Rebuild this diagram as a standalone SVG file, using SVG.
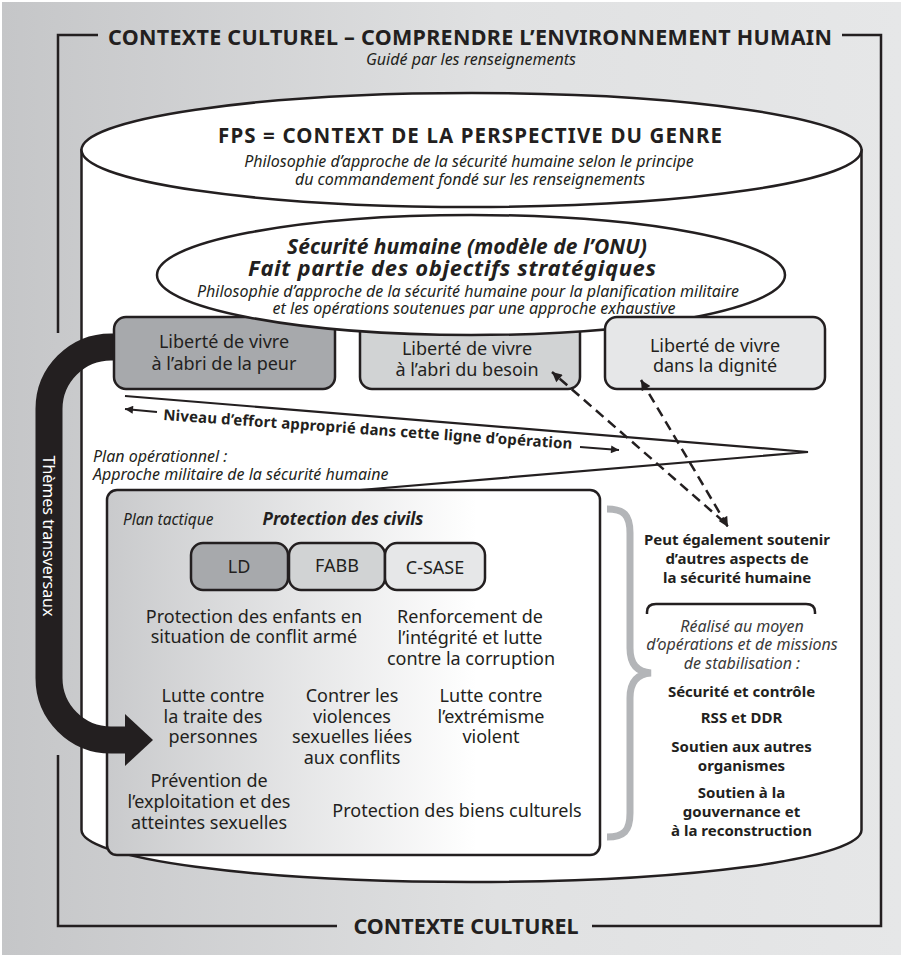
<svg xmlns="http://www.w3.org/2000/svg" width="903" height="957" viewBox="0 0 903 957">
<defs>
<linearGradient id="bg" x1="0" y1="0" x2="1" y2="0">
<stop offset="0" stop-color="#c5c6c8"/>
<stop offset="0.55" stop-color="#e0e1e2"/>
<stop offset="1" stop-color="#e6e7e8"/>
</linearGradient>
<linearGradient id="tac" x1="0" y1="0" x2="1" y2="0">
<stop offset="0" stop-color="#c9cacc"/>
<stop offset="0.75" stop-color="#ffffff"/>
<stop offset="1" stop-color="#ffffff"/>
</linearGradient>
<marker id="ah" viewBox="0 0 10 10" refX="10" refY="5" markerWidth="11" markerHeight="10" markerUnits="userSpaceOnUse" orient="auto-start-reverse">
<path d="M0,0 L10,5 L0,10 z" fill="#231f20"/>
</marker>
<marker id="sh" viewBox="0 0 10 10" refX="10" refY="5" markerWidth="9" markerHeight="8" markerUnits="userSpaceOnUse" orient="auto">
<path d="M0,0 L10,5 L0,10 z" fill="#231f20"/>
</marker>
</defs>
<style>
.t{font-family:"Noto Sans","DejaVu Sans",sans-serif;fill:#231f20}
.b{font-weight:700}
.i{font-style:italic}
.m{text-anchor:middle}
.ln{fill:none;stroke:#231f20;stroke-width:2.5}
.box{stroke:#231f20;stroke-width:2.5}
.dk{fill:#a7a9ac}
.md{fill:#d1d3d4}
.lt{fill:#e6e7e8}
.dash{fill:none;stroke:#231f20;stroke-width:2.5;stroke-dasharray:10 6}
</style>
<rect x="0" y="0" width="903" height="957" fill="#ffffff"/>
<rect x="2" y="2" width="899" height="953" fill="url(#bg)"/>

<g id="frame">
<path class="ln" d="M98 35 H58 V333"/>
<path class="ln" d="M58 755 V926 H337"/>
<path class="ln" d="M592 926 H881 V35 H842"/>
<text class="t b m" x="470" y="45" font-size="21.5" textLength="724">CONTEXTE CULTUREL – COMPRENDRE L’ENVIRONNEMENT HUMAIN</text>
<text class="t i m" x="471" y="65" font-size="16">Guidé par les renseignements</text>
<text class="t b m" x="466" y="934" font-size="21.5">CONTEXTE CULTUREL</text>
</g>

<g id="cylinder">
<path d="M81.5 150 V830 A390 52 0 0 0 861.5 830 V150 Z" fill="#ffffff" stroke="#231f20" stroke-width="2.5"/>
<ellipse cx="471.5" cy="150" rx="390" ry="57" fill="#ffffff" stroke="#231f20" stroke-width="2.5"/>
<text class="t b m" x="470" y="143" font-size="20.5" textLength="504">FPS = CONTEXT DE LA PERSPECTIVE DU GENRE</text>
<text class="t i m" x="469" y="167" font-size="16">Philosophie d’approche de la sécurité humaine selon le principe</text>
<text class="t i m" x="470" y="185" font-size="16">du commandement fondé sur les renseignements</text>
</g>

<g id="effort">
<path d="M125 396 L808 452 L360 490" fill="none" stroke="#231f20" stroke-width="2.2"/>
<text class="t b" transform="translate(163 420) rotate(4.06)" font-size="15" textLength="410">Niveau d’effort approprié dans cette ligne d’opération</text>
</g>

<g id="plan-op">
<text class="t i" x="93" y="462" font-size="16">Plan opérationnel :</text>
<text class="t i" x="93" y="480" font-size="16">Approche militaire de la sécurité humaine</text>
</g>

<g id="tactique">
<rect x="107" y="490" width="493" height="365" rx="10" fill="url(#tac)" stroke="#231f20" stroke-width="2.5"/>
<text class="t i" x="123" y="525" font-size="15.5">Plan tactique</text>
<text class="t b i m" x="343" y="525" font-size="17">Protection des civils</text>
<rect class="box dk" x="191" y="543" width="97" height="47" rx="12"/>
<rect class="box md" x="289" y="543" width="96" height="47" rx="12"/>
<rect class="box lt" x="385" y="543" width="100" height="47" rx="12"/>
<text class="t m" x="239" y="573" font-size="18">LD</text>
<text class="t m" x="337" y="572" font-size="18">FABB</text>
<text class="t m" x="435" y="574" font-size="18">C-SASE</text>
<text class="t m" font-size="18"><tspan x="254" y="623">Protection des enfants en</tspan><tspan x="254" y="643">situation de conflit armé</tspan></text>
<text class="t m" font-size="18"><tspan x="470" y="623">Renforcement de</tspan><tspan x="470" y="644">l’intégrité et lutte</tspan><tspan x="471" y="665">contre la corruption</tspan></text>
<text class="t m" font-size="18"><tspan x="213" y="702">Lutte contre</tspan><tspan x="213" y="723">la traite des</tspan><tspan x="213" y="743">personnes</tspan></text>
<text class="t m" font-size="18"><tspan x="352" y="702">Contrer les</tspan><tspan x="352" y="723">violences</tspan><tspan x="352" y="743">sexuelles liées</tspan><tspan x="352" y="764">aux conflits</tspan></text>
<text class="t m" font-size="18"><tspan x="491" y="702">Lutte contre</tspan><tspan x="491" y="723">l’extrémisme</tspan><tspan x="491" y="743">violent</tspan></text>
<text class="t m" font-size="18"><tspan x="209" y="787">Prévention de</tspan><tspan x="209" y="808">l’exploitation et des</tspan><tspan x="209" y="829">atteintes sexuelles</tspan></text>
<text class="t m" x="457" y="817" font-size="18">Protection des biens culturels</text>
</g>

<g id="cross-themes">
<path d="M120 347 H111 A62 62 0 0 0 49 409 V678 A62 62 0 0 0 111 740 H127" fill="none" stroke="#231f20" stroke-width="27"/>
<polygon points="125,714 153,740 125,766" fill="#231f20"/>
<text class="t m" transform="translate(43 536) rotate(90)" font-size="16" style="fill:#ffffff">Thèmes transversaux</text>
</g>

<g id="box-peur">
<rect class="box dk" x="114" y="317" width="221" height="72" rx="12"/>
<text class="t m" x="224" y="348" font-size="18">Liberté de vivre</text>
<text class="t m" x="224" y="370" font-size="18">à l’abri de la peur</text>
</g>

<g id="box-besoin">
<rect class="box md" x="360" y="317" width="220" height="72" rx="12"/>
<text class="t m" x="467" y="355" font-size="18">Liberté de vivre</text>
<text class="t m" x="467" y="376" font-size="18">à l’abri du besoin</text>
</g>

<g id="onu">
<ellipse cx="471" cy="275" rx="314" ry="60" fill="#ffffff" stroke="#231f20" stroke-width="2.5"/>
<text class="t b i m" x="467" y="254" font-size="21" textLength="360">Sécurité humaine (modèle de l’ONU)</text>
<text class="t b i m" x="452" y="276" font-size="22" textLength="408">Fait partie des objectifs stratégiques</text>
<text class="t i m" x="468" y="297" font-size="16">Philosophie d’approche de la sécurité humaine pour la planification militaire</text>
<text class="t i m" x="474" y="314" font-size="16">et les opérations soutenues par une approche exhaustive</text>
</g>

<g id="box-dignite">
<rect class="box lt" x="605" y="317" width="220" height="72" rx="12"/>
<text class="t m" x="715" y="352" font-size="18">Liberté de vivre</text>
<text class="t m" x="715" y="372" font-size="18">dans la dignité</text>
</g>

<g id="connectors">
<path d="M157 412 L125 409" fill="none" stroke="#231f20" stroke-width="2" marker-end="url(#sh)"/>
<path d="M580 447 L619 450" fill="none" stroke="#231f20" stroke-width="2" marker-end="url(#sh)"/>
<path class="dash" d="M724 522 L552 372" marker-end="url(#ah)"/>
<path class="dash" d="M641 380 L728 527" marker-start="url(#ah)" marker-end="url(#ah)"/>
</g>

<g id="brace">
<path d="M607 509 C624 509 630 515 630 533 V648 C630 664 637 672 651 673 C637 674 630 682 630 698 V813 C630 831 624 837 607 837" fill="none" stroke="#b3b5b8" stroke-width="7"/>
</g>

<g id="autres">
<text class="t b m" font-size="15"><tspan x="737" y="545">Peut également soutenir</tspan><tspan x="737" y="564">d’autres aspects de</tspan><tspan x="737" y="583">la sécurité humaine</tspan></text>
<path class="ln" d="M647 614 V612 Q647 604 656 604 H806 Q815 604 815 612 V614"/>
<text class="t i m" font-size="16" style="fill:#3a3a3a"><tspan x="742" y="632">Réalisé au moyen</tspan><tspan x="742" y="650">d’opérations et de missions</tspan><tspan x="742" y="669">de stabilisation :</tspan></text>
<text class="t b m" font-size="15"><tspan x="741.5" y="697">Sécurité et contrôle</tspan><tspan x="741.5" y="723">RSS et DDR</tspan><tspan x="741.5" y="752">Soutien aux autres</tspan><tspan x="741.5" y="771">organismes</tspan><tspan x="741.5" y="798">Soutien à la</tspan><tspan x="741.5" y="817">gouvernance et</tspan><tspan x="741.5" y="836">à la reconstruction</tspan></text>
</g>
</svg>
